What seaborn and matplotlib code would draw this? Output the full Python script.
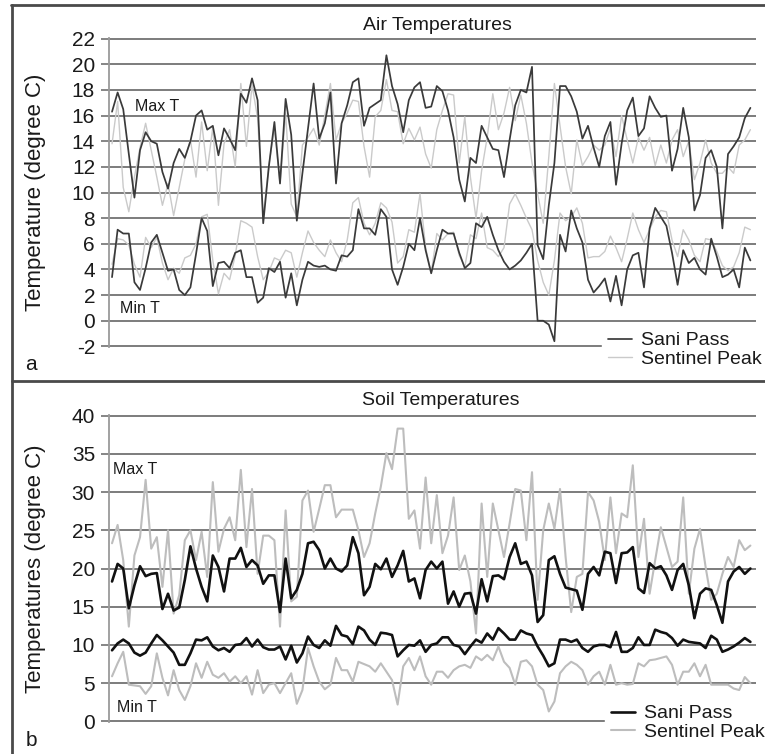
import numpy as np
import pandas as pd
import matplotlib
matplotlib.use("Agg")
import matplotlib.pyplot as plt
from matplotlib.lines import Line2D
import seaborn as sns

# ---------------- data: daily values, 115 days ----------------
SANI = "Sani Pass"
SENTINEL = "Sentinel Peak"

air_sani_max = [
    16.3, 17.8, 16.5, 13.0, 9.6, 13.3, 14.7, 14.0, 13.8, 11.6,
    10.3, 12.3, 13.4, 12.7, 14.0, 16.0, 16.4, 14.9, 15.2, 12.9,
    15.0, 14.2, 13.3, 17.7, 17.0, 18.9, 17.2, 7.6, 12.0, 15.5,
    10.7, 17.3, 14.5, 7.8, 11.5, 15.0, 18.5, 14.2, 15.4, 17.8,
    10.7, 15.4, 16.8, 18.6, 18.9, 15.2, 16.6, 16.9, 17.2, 20.7,
    18.3, 16.9, 14.7, 17.2, 18.2, 18.6, 16.6, 16.7, 18.3, 17.9,
    16.4, 14.3, 11.0, 9.3, 12.7, 12.3, 15.2, 14.3, 13.4, 13.3,
    11.2, 14.1, 16.8, 18.0, 17.8, 19.8, 5.9, 4.8, 9.0, 12.3,
    18.3, 18.3, 17.5, 16.3, 14.2, 15.2, 13.5, 12.0, 14.4, 15.5,
    10.6, 13.8, 16.4, 17.4, 14.4, 15.0, 17.5, 16.6, 15.9, 16.0,
    11.7, 13.4, 16.6, 14.3, 8.6, 9.8, 12.7, 13.3, 12.0, 7.2,
    13.0, 13.6, 14.3, 15.8, 16.6,
]
air_sani_min = [
    3.4, 7.1, 6.8, 6.8, 3.0, 2.4, 4.1, 6.1, 6.7, 5.3,
    3.9, 4.0, 2.4, 2.0, 2.6, 5.2, 8.0, 7.0, 2.7, 4.5,
    4.6, 4.1, 5.3, 5.5, 3.4, 3.4, 1.4, 1.8, 4.1, 3.8,
    4.6, 1.8, 3.7, 1.2, 3.2, 4.6, 4.3, 4.2, 4.3, 4.0,
    3.9, 5.1, 5.0, 5.5, 8.7, 7.2, 7.2, 6.7, 8.7, 8.1,
    4.0, 2.8, 4.2, 6.0, 5.5, 8.0, 5.5, 3.7, 5.5, 7.1,
    6.8, 6.8, 5.3, 4.1, 4.5, 7.6, 7.3, 8.1, 6.7, 5.5,
    4.6, 4.0, 4.3, 4.7, 5.3, 6.0, 0.0, 0.0, -0.3, -1.6,
    6.7, 5.4, 8.6, 7.2, 6.1, 3.2, 2.2, 2.7, 3.3, 1.5,
    3.5, 1.2, 4.0, 5.1, 5.3, 2.6, 7.2, 8.8, 8.1, 7.4,
    5.3, 2.8, 5.5, 4.5, 4.9, 4.0, 3.6, 6.4, 5.0, 3.4,
    3.6, 4.0, 2.6, 5.7, 4.7,
]
air_sentinel_max = [
    13.8, 17.1, 10.4, 8.5, 11.2, 13.5, 15.4, 13.3, 11.2, 9.0,
    10.7, 8.2, 10.4, 12.6, 14.1, 11.2, 15.5, 11.7, 15.1, 9.0,
    13.8, 14.9, 12.0, 18.5, 13.6, 18.4, 15.8, 8.1, 12.1, 15.0,
    10.7, 16.2, 9.1, 8.1, 13.7, 14.3, 15.0, 13.7, 16.0, 18.5,
    14.1, 15.4, 16.2, 17.2, 17.1, 13.6, 11.2, 15.9, 16.4, 18.8,
    16.4, 16.3, 13.8, 15.0, 14.1, 15.1, 13.0, 11.9, 14.9, 16.4,
    17.7, 17.6, 12.3, 15.9, 11.2, 8.0, 11.7, 14.3, 17.7, 14.9,
    16.2, 18.2, 15.6, 17.6, 15.4, 12.3, 9.9, 7.6, 12.8, 18.5,
    15.2, 12.0, 9.9, 14.1, 12.1, 12.8, 13.7, 13.3, 13.7, 15.0,
    12.8, 16.0, 14.1, 12.3, 14.3, 13.3, 14.3, 12.1, 13.7, 12.3,
    14.1, 14.9, 12.8, 14.0, 11.0, 12.3, 14.1, 12.3, 11.5, 11.5,
    12.0, 11.5, 13.7, 14.1, 14.9,
]
air_sentinel_min = [
    4.4, 6.4, 6.3, 5.9, 4.4, 3.4, 6.5, 5.7, 6.5, 4.5,
    3.2, 4.1, 3.7, 4.9, 5.1, 6.0, 8.1, 8.3, 4.7, 2.1,
    3.7, 3.2, 5.1, 7.8, 7.6, 7.3, 5.0, 3.2, 3.8, 4.9,
    4.7, 5.5, 5.3, 3.4, 5.3, 7.0, 6.1, 5.5, 5.0, 6.3,
    5.3, 4.6, 6.3, 9.2, 9.6, 7.6, 6.7, 7.6, 9.2, 8.8,
    7.7, 4.5, 5.0, 7.1, 6.9, 9.9, 5.7, 3.7, 6.8, 6.3,
    6.8, 6.9, 5.1, 4.2, 6.7, 6.4, 8.4, 5.7, 5.5, 5.0,
    5.7, 9.1, 9.9, 9.0, 8.0, 7.1, 4.7, 3.0, 2.0, 4.7,
    8.4, 7.8, 8.1, 8.8, 7.6, 4.9, 5.0, 5.0, 5.4, 6.6,
    5.7, 4.6, 6.4, 8.4, 7.1, 6.1, 7.1, 8.1, 8.6, 8.5,
    6.3, 5.0, 7.1, 6.3, 5.1, 4.6, 6.4, 6.3, 5.4, 4.3,
    3.9, 4.2, 5.3, 7.3, 7.1,
]

soil_sani_max = [
    18.3, 20.6, 20.0, 14.8, 17.8, 20.3, 19.0, 19.3, 19.4, 14.7,
    16.7, 14.5, 14.9, 18.5, 22.9, 20.0, 17.6, 15.7, 21.7, 20.2,
    17.0, 21.3, 21.3, 22.7, 20.2, 21.1, 20.4, 18.0, 19.1, 19.1,
    14.3, 21.3, 16.1, 17.2, 19.3, 23.3, 23.5, 22.4, 20.0, 21.3,
    20.0, 19.6, 20.4, 24.1, 22.0, 16.5, 17.6, 20.6, 19.9, 21.3,
    18.9, 20.4, 22.3, 18.3, 18.7, 16.1, 19.8, 20.9, 20.0, 20.9,
    15.4, 17.0, 15.0, 16.7, 16.8, 14.1, 18.6, 15.7, 19.0, 19.1,
    18.6, 21.5, 23.3, 20.6, 20.9, 19.1, 13.0, 13.9, 21.1, 21.6,
    19.3, 17.5, 17.3, 17.1, 14.6, 19.3, 20.2, 19.1, 22.2, 22.0,
    18.1, 22.0, 22.1, 22.8, 17.4, 16.8, 20.7, 20.0, 20.3, 19.1,
    17.2, 19.8, 20.6, 17.8, 13.5, 16.7, 17.4, 17.2, 15.2, 12.9,
    18.3, 19.6, 20.2, 19.3, 20.0,
]
soil_sani_min = [
    9.3, 10.2, 10.7, 10.2, 9.0, 8.6, 9.0, 10.2, 11.3, 10.6,
    9.8, 9.0, 7.4, 7.4, 8.9, 10.7, 10.6, 11.0, 9.8, 9.3,
    9.6, 9.1, 10.0, 10.1, 10.9, 9.8, 10.7, 9.7, 9.4, 9.4,
    9.8, 8.1, 9.9, 7.7, 8.9, 11.1, 10.0, 9.6, 10.6, 9.9,
    12.5, 11.3, 11.1, 10.1, 12.4, 11.9, 10.7, 10.0, 11.6, 11.5,
    11.3, 8.5, 9.3, 10.0, 9.9, 10.6, 9.1, 10.0, 10.2, 11.0,
    11.0, 10.0, 9.8, 8.8, 9.8, 10.7, 10.3, 11.5, 10.7, 12.2,
    11.5, 10.7, 10.7, 11.9, 11.5, 11.3, 9.8, 8.6, 7.2, 7.6,
    10.7, 10.7, 10.4, 10.7, 9.6, 9.1, 9.8, 10.0, 10.0, 9.7,
    11.7, 9.1, 9.1, 9.6, 11.0, 10.0, 10.0, 12.0, 11.7, 11.5,
    10.9, 9.9, 10.7, 10.4, 10.3, 10.2, 9.6, 11.2, 10.7, 9.1,
    9.4, 9.8, 10.3, 10.9, 10.4,
]
soil_sentinel_max = [
    23.3, 25.7, 21.1, 12.4, 21.7, 24.1, 31.6, 22.6, 24.1, 17.6,
    25.0, 14.1, 16.5, 23.7, 25.0, 21.1, 24.8, 18.9, 31.3, 22.2,
    25.2, 26.7, 23.7, 32.9, 22.8, 30.4, 19.3, 24.3, 24.3, 23.7,
    12.4, 27.6, 15.7, 16.3, 28.9, 30.2, 24.8, 27.8, 30.9, 30.9,
    26.7, 27.7, 27.7, 27.7, 25.0, 21.5, 23.3, 27.2, 30.7, 35.1,
    33.0, 38.3, 38.3, 26.5, 27.6, 22.6, 31.9, 23.3, 29.6, 22.0,
    24.3, 29.3, 19.8, 21.7, 18.3, 11.5, 28.5, 18.9, 28.5, 25.0,
    21.5, 25.9, 30.4, 30.2, 23.7, 32.6, 15.9, 25.0, 28.5, 25.2,
    30.4, 21.5, 14.3, 18.9, 19.3, 30.0, 28.9, 26.1, 21.1, 29.3,
    22.0, 27.2, 26.7, 33.5, 21.5, 26.5, 16.7, 21.1, 25.4, 22.8,
    20.2, 20.9, 29.3, 16.7, 22.6, 25.2, 20.2, 15.9, 16.7, 19.3,
    21.5, 20.2, 23.7, 22.4, 23.0,
]
soil_sentinel_min = [
    5.9, 7.6, 9.1, 4.8, 4.7, 4.6, 3.6, 4.6, 8.9, 5.7,
    3.4, 6.7, 4.1, 2.8, 4.6, 7.6, 5.7, 7.8, 6.1, 5.7,
    6.3, 5.2, 5.9, 5.0, 5.9, 3.5, 6.7, 3.7, 4.8, 5.0,
    3.7, 5.0, 6.3, 2.3, 4.1, 9.6, 7.2, 5.2, 4.2, 4.8,
    8.3, 6.7, 6.7, 5.2, 7.8, 7.5, 7.2, 6.5, 7.6, 6.5,
    5.4, 2.2, 7.2, 8.3, 6.7, 8.5, 5.9, 4.8, 6.5, 6.5,
    5.7, 6.7, 7.2, 7.4, 7.0, 8.5, 8.0, 8.7, 8.0, 9.8,
    7.8, 7.0, 4.8, 7.8, 8.0, 7.2, 4.8, 4.1, 1.3, 2.6,
    6.3, 7.2, 7.8, 7.4, 6.7, 4.8, 5.9, 6.5, 4.8, 7.4,
    4.8, 5.0, 4.8, 4.9, 7.6, 7.2, 8.0, 8.1, 8.3, 8.5,
    7.4, 4.8, 6.5, 6.5, 7.6, 5.9, 7.4, 4.8, 4.8, 4.8,
    4.8, 4.3, 4.1, 5.8, 5.0,
]

air_ticks = list(range(-2, 23, 2))
soil_ticks = list(range(0, 41, 5))

# ---------------- long-form tables ----------------
days = np.arange(len(air_sani_max))


def long_form(series):
    parts = [pd.DataFrame({"day": days, "temp": vals, "site": site, "kind": kind})
             for site, kind, vals in series]
    return pd.concat(parts, ignore_index=True)


air = long_form([
    (SANI, "max", air_sani_max), (SANI, "min", air_sani_min),
    (SENTINEL, "max", air_sentinel_max), (SENTINEL, "min", air_sentinel_min),
])
soil = long_form([
    (SANI, "max", soil_sani_max), (SANI, "min", soil_sani_min),
    (SENTINEL, "max", soil_sentinel_max), (SENTINEL, "min", soil_sentinel_min),
])

# ---------------- style ----------------
sns.set_theme(style="white")
plt.rcParams["font.family"] = ["Liberation Sans", "DejaVu Sans"]
plt.rcParams["axes.unicode_minus"] = False

GRID = "#7c7c7c"
W, H = 765, 754

fig = plt.figure(figsize=(W / 100, H / 100), dpi=100)
ax_a = fig.add_axes([109 / W, 1 - 347 / H, 647 / W, 309 / H])
ax_b = fig.add_axes([109 / W, 1 - 722 / H, 647 / W, 307 / H])

air_colors = {SANI: "#3a3a3a", SENTINEL: "#cacaca"}
air_widths = {SANI: 1.25, SENTINEL: 1.0}
soil_colors = {SANI: "#111111", SENTINEL: "#bdbdbd"}
soil_widths = {SANI: 1.9, SENTINEL: 1.5}


def draw_panel(ax, df, colors, widths, ticks, ylabel):
    for z, site in enumerate([SENTINEL, SANI]):
        sns.lineplot(data=df[df["site"] == site], x="day", y="temp",
                     units="kind", estimator=None, color=colors[site],
                     linewidth=widths[site], legend=False, ax=ax, zorder=3 + z)
    ax.set_xlim(-0.54, 115.0)
    pad = (ticks[-1] - ticks[0]) * 0.002
    ax.set_ylim(ticks[0] - pad, ticks[-1] + pad)
    ax.set_yticks(ticks)
    ax.set_yticklabels([str(t) for t in ticks])
    ax.set_xticks([])
    ax.set_xlabel("")
    ax.set_axisbelow(True)
    ax.grid(axis="y", color=GRID, linewidth=1.4)
    ax.grid(axis="x", visible=False)
    for side in ("top", "right", "bottom"):
        ax.spines[side].set_visible(False)
    ax.spines["left"].set_color("#9a9a9a")
    ax.spines["left"].set_linewidth(1.3)
    ax.tick_params(axis="y", left=True, length=6, width=1.3, color=GRID,
                   labelsize=15, pad=4, labelcolor="#1a1a1a")
    ax.set_ylabel(ylabel, fontsize=16, color="#1a1a1a")
    ax.yaxis.set_label_coords(-0.098, 0.5)
    ax.set_facecolor("white")


draw_panel(ax_a, air, air_colors, air_widths, air_ticks, "Temperature (degree C)")
draw_panel(ax_b, soil, soil_colors, soil_widths, soil_ticks, "Temperatures (degree C)")

# series annotations
ax_a.text(0.040, 0.777, "Max T", transform=ax_a.transAxes, fontsize=11.5,
          va="center", ha="left", color="#1a1a1a")
ax_a.text(0.017, 0.123, "Min T", transform=ax_a.transAxes, fontsize=11.5,
          va="center", ha="left", color="#1a1a1a")
ax_b.text(0.006, 0.824, "Max T", transform=ax_b.transAxes, fontsize=11.5,
          va="center", ha="left", color="#1a1a1a")
ax_b.text(0.012, 0.046, "Min T", transform=ax_b.transAxes, fontsize=11.5,
          va="center", ha="left", color="#1a1a1a")

# panel titles and letters
fig.text(437 / W, 1 - 25 / H, "Air Temperatures", ha="center", va="center",
         fontsize=14, color="#1a1a1a")
fig.text(441 / W, 1 - 400 / H, "Soil Temperatures", ha="center", va="center",
         fontsize=14, color="#1a1a1a")
fig.text(31 / W, 1 - 364 / H, "a", ha="center", va="center", fontsize=15, color="#1a1a1a")
fig.text(31 / W, 1 - 741 / H, "b", ha="center", va="center", fontsize=15, color="#1a1a1a")

# legends
labels = [SANI, SENTINEL]
for colors, widths, anchor in (
    (air_colors, air_widths, (602 / W, 1 - 326 / H)),
    (soil_colors, soil_widths, (605 / W, 1 - 699 / H)),
):
    handles = [Line2D([], [], color=colors[s], linewidth=widths[s]) for s in labels]
    leg = fig.legend(handles, labels, loc="upper left", bbox_to_anchor=anchor,
                     frameon=True, facecolor="white", edgecolor="white",
                     framealpha=1.0, fancybox=False, fontsize=14,
                     handlelength=1.25, handletextpad=0.45, labelspacing=0.05,
                     borderpad=0.3, borderaxespad=0.0)
    for t in leg.get_texts():
        t.set_color("#1a1a1a")

# outer frame and panel separator
FRAME = "#4a4a4a"
for xs, ys in (
    ([11 / W, 1.0], [1 - 5 / H, 1 - 5 / H]),
    ([12 / W, 12 / W], [1 - 5 / H, 0.0]),
    ([12 / W, 1.0], [1 - 381 / H, 1 - 381 / H]),
):
    fig.add_artist(Line2D(xs, ys, transform=fig.transFigure, color=FRAME,
                          linewidth=2.0, zorder=10))

fig.savefig("out.png", dpi=100, facecolor="white")
